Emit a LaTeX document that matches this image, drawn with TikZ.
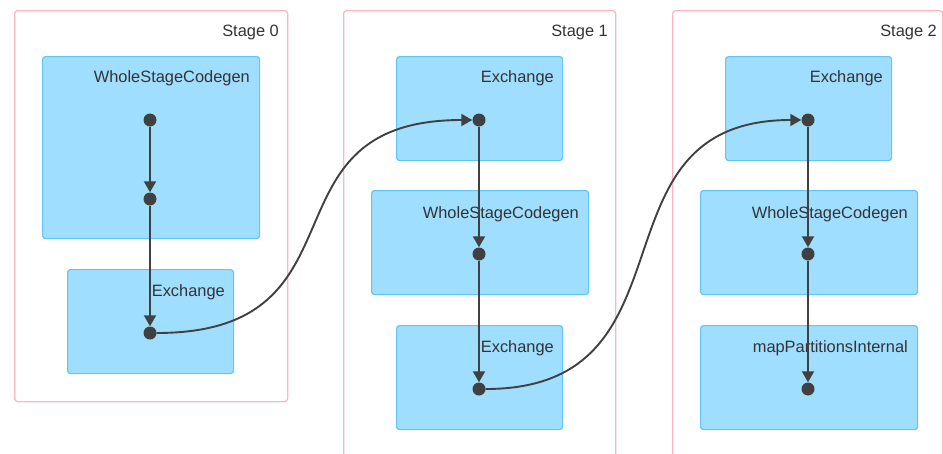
\documentclass[tikz,border=0pt]{standalone}
\usepackage{fontspec}
\setmainfont{Liberation Sans}
\usetikzlibrary{arrows.meta}
\definecolor{boxfill}{RGB}{160,222,255}
\definecolor{boxline}{RGB}{96,198,248}
\definecolor{stageline}{RGB}{255,182,193}
\definecolor{ink}{RGB}{64,64,64}
\definecolor{txt}{RGB}{51,51,51}
\begin{document}
\begin{tikzpicture}[x=1pt,y=-1pt,
  stagebox/.style={draw=stageline,line width=1.3pt,rounded corners=3pt,anchor=north west,inner sep=0pt},
  opbox/.style={draw=boxline,fill=boxfill,line width=1.2pt,rounded corners=3pt,anchor=north west,inner sep=0pt},
  lbl/.style={anchor=base east,inner sep=0pt,text=txt,font=\fontsize{16.4}{18}\selectfont},
  dot/.style={circle,fill=ink,inner sep=0pt,minimum size=13pt},
  edge/.style={draw=ink,line width=1.9pt,-{Triangle[length=11pt,width=12pt]}}]
\useasboundingbox (0,0) rectangle (943,453);
\clip (0,0) rectangle (943,453);
% stages
\node[stagebox,minimum width=273pt,minimum height=391pt] (s0) at (14,10) {};
\node[stagebox,minimum width=272pt,minimum height=460pt] (s1) at (343,10) {};
\node[stagebox,minimum width=270pt,minimum height=460pt] (s2) at (672,10) {};
\node[lbl] (s0l) at (279,36) {Stage 0};
\node[lbl] (s1l) at (608,36) {Stage 1};
\node[lbl] (s2l) at (937,36) {Stage 2};
% stage 0
\node[opbox,minimum width=217pt,minimum height=182pt] (a1) at (42,56) {};
\node[lbl] (a1l) at (250,82) {WholeStageCodegen};
\node[opbox,minimum width=166pt,minimum height=104pt] (a2) at (67,269) {};
\node[lbl] (a2l) at (225,296) {Exchange};
% stage 1
\node[opbox,minimum width=166pt,minimum height=104pt] (b1) at (396,56) {};
\node[lbl] (b1l) at (554,82) {Exchange};
\node[opbox,minimum width=217pt,minimum height=104pt] (b2) at (371,190) {};
\node[lbl] (b2l) at (579,218) {WholeStageCodegen};
\node[opbox,minimum width=166pt,minimum height=104pt] (b3) at (396,325) {};
\node[lbl] (b3l) at (554,352) {Exchange};
% stage 2
\node[opbox,minimum width=166pt,minimum height=104pt] (c1) at (725,56) {};
\node[lbl] (c1l) at (883,82) {Exchange};
\node[opbox,minimum width=217pt,minimum height=104pt] (c2) at (700,190) {};
\node[lbl] (c2l) at (908,218) {WholeStageCodegen};
\node[opbox,minimum width=217pt,minimum height=104pt] (c3) at (700,325) {};
\node[lbl] (c3l) at (908,352) {mapPartitionsInternal};
% dots
\node[dot] (p1) at (150,120) {};
\node[dot] (p2) at (150,199) {};
\node[dot] (p3) at (150,333) {};
\node[dot] (q1) at (479,120) {};
\node[dot] (q2) at (479,254) {};
\node[dot] (q3) at (479,389) {};
\node[dot] (r1) at (808,120) {};
\node[dot] (r2) at (808,254) {};
\node[dot] (r3) at (808,389) {};
% edges
\draw[edge] (p1) -- (p2);
\draw[edge] (p2) -- (p3);
\draw[edge] (p3) .. controls +(225,0) and +(-225,0) .. (q1);
\draw[edge] (q1) -- (q2);
\draw[edge] (q2) -- (q3);
\draw[edge] (q3) .. controls +(225,0) and +(-225,0) .. (r1);
\draw[edge] (r1) -- (r2);
\draw[edge] (r2) -- (r3);
\end{tikzpicture}
\end{document}
